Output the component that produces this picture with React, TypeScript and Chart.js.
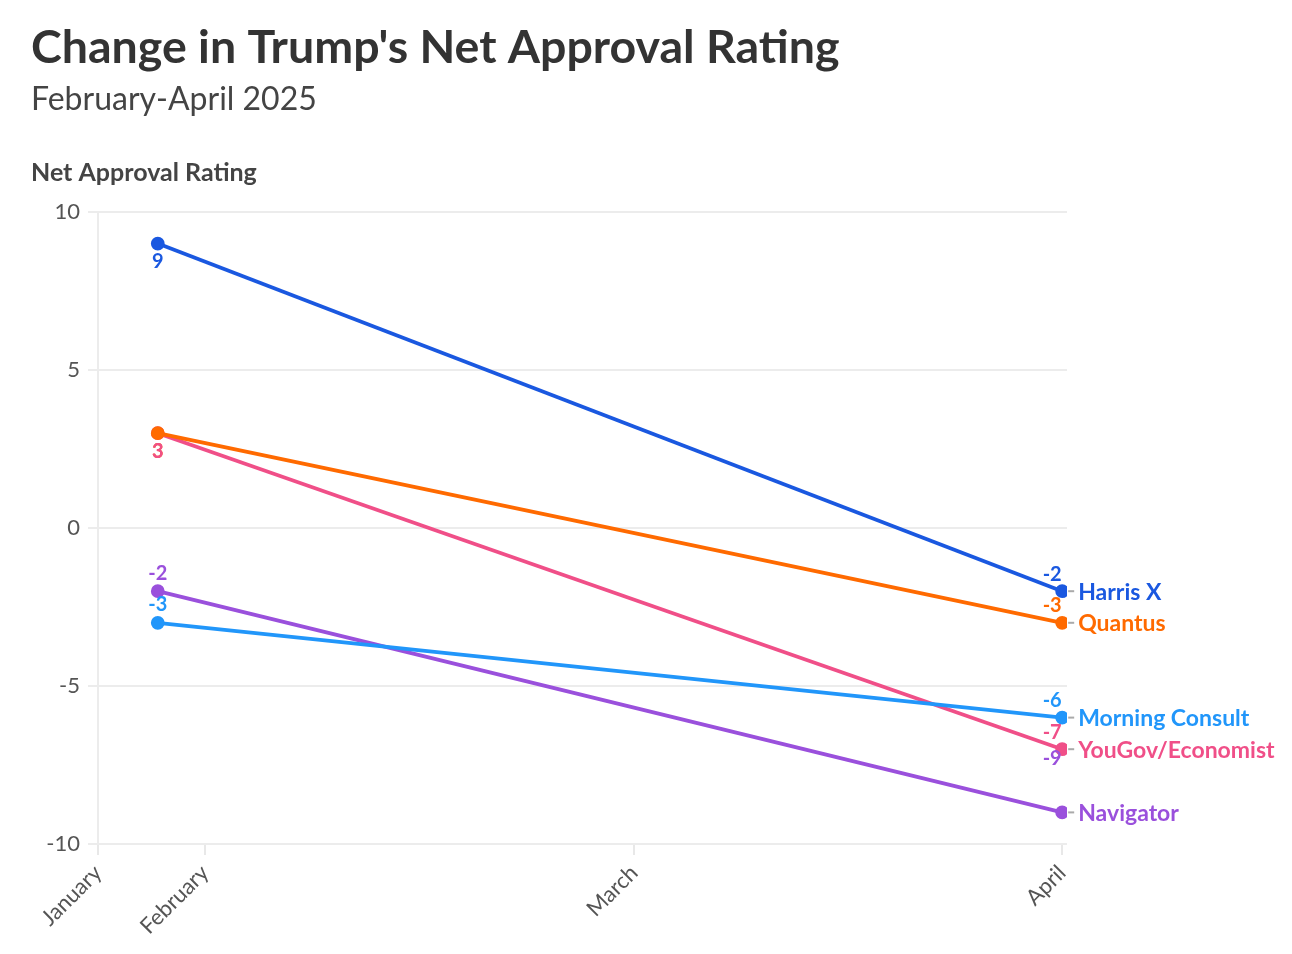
import React, { useEffect, useRef } from "react";
import { Chart, registerables } from "chart.js";

Chart.register(...registerables);

// ---- data ----
const seriesNames = ["Harris X", "Quantus", "Morning Consult", "YouGov/Economist", "Navigator"];
const febValues = [9, 3, -3, 3, -2];
const aprValues = [-2, -3, -6, -7, -9];
const pointX = [6.2, 100]; // positions on the month axis (Jan = 0, Apr = 100)
const monthTickValues = [0, 11.1, 55.6, 100];
const monthTickLabels = ["January", "February", "March", "April"];
const yTicks = [-10, -5, 0, 5, 10];

const TITLE = "Change in Trump's Net Approval Rating";
const SUBTITLE = "February-April 2025";
const AXIS_TITLE = "Net Approval Rating";

// ---- style ----
const colors = ["#1a58e0", "#ff6a00", "#2196fa", "#f04f88", "#9a50dc"];
// value-label offsets [dx, dy] per series, for first and last point
const labelOffsets: [number, number][][] = [
  [[0, 18], [-10, -17]],
  [[0, 18], [-10, -17]],
  [[0, -18], [-10, -17]],
  [[0, 18], [-10, -17]],
  [[0, -18], [-10, -54]],
];
const FONT = "Lato, 'Noto Sans', sans-serif";

const textPlugin = {
  id: "customText",
  afterDraw(chart: any) {
    const ctx = chart.ctx as CanvasRenderingContext2D;
    ctx.save();
    // titles
    ctx.textAlign = "left";
    ctx.textBaseline = "alphabetic";
    ctx.fillStyle = "#333333";
    ctx.font = `bold 46.5px ${FONT}`;
    ctx.fillText(TITLE, 31, 63);
    ctx.fillStyle = "#444444";
    ctx.font = `32px ${FONT}`;
    ctx.fillText(SUBTITLE, 31, 110);
    ctx.font = `bold 25px ${FONT}`;
    ctx.fillText(AXIS_TITLE, 31, 181);

    // value labels
    chart.data.datasets.forEach((ds: any, i: number) => {
      const meta = chart.getDatasetMeta(i);
      meta.data.forEach((pt: any, j: number) => {
        const [dx, dy] = labelOffsets[i][j];
        ctx.font = `bold 20px ${FONT}`;
        ctx.fillStyle = colors[i];
        ctx.textAlign = "center";
        ctx.textBaseline = "middle";
        ctx.fillText(String(ds.data[j].y), pt.x + dx, pt.y + dy);
      });
      // series name at end
      const last = meta.data[meta.data.length - 1];
      ctx.strokeStyle = "#aaaaaa";
      ctx.lineWidth = 2;
      ctx.beginPath();
      ctx.moveTo(last.x + 6, last.y);
      ctx.lineTo(last.x + 12, last.y);
      ctx.stroke();
      ctx.font = `bold 23px ${FONT}`;
      ctx.fillStyle = colors[i];
      ctx.textAlign = "left";
      ctx.textBaseline = "middle";
      ctx.fillText(seriesNames[i], last.x + 16, last.y + 1);
    });
    ctx.restore();
  },
};

export default function App() {
  const canvasRef = useRef<HTMLCanvasElement | null>(null);

  useEffect(() => {
    if (!canvasRef.current) return;
    const datasets = seriesNames.map((name, i) => ({
      label: name,
      data: [
        { x: pointX[0], y: febValues[i] },
        { x: pointX[1], y: aprValues[i] },
      ],
      borderColor: colors[i],
      backgroundColor: colors[i],
      borderWidth: 3.8,
      pointRadius: 5,
      pointHoverRadius: 5,
      tension: 0,
    }));
    const chart = new Chart(canvasRef.current, {
      type: "line",
      data: { datasets },
      options: {
        animation: false,
        responsive: false,
        devicePixelRatio: 1,
        layout: { padding: { top: 212, right: 225, left: 0, bottom: 0 } },
        plugins: {
          legend: { display: false },
          tooltip: { enabled: false },
          title: { display: false },
        },
        scales: {
          x: {
            type: "linear",
            min: 0,
            max: 100.5,
            afterFit: (s: any) => {
              s.height = 110;
            },
            afterBuildTicks: (s: any) => {
              s.ticks = monthTickValues.map((v) => ({ value: v }));
            },
            ticks: {
              autoSkip: false,
              minRotation: 45,
              maxRotation: 45,
              padding: 5,
              color: "#555555",
              font: { family: FONT, size: 22 },
              callback: (v: any) => {
                const k = monthTickValues.indexOf(Number(v));
                return k >= 0 ? monthTickLabels[k] : "";
              },
            },
            grid: {
              drawOnChartArea: false,
              drawTicks: true,
              tickLength: 11,
              color: "#e8e8e8",
              lineWidth: 2,
            },
            border: { display: false },
          },
          y: {
            type: "linear",
            min: -10,
            max: 10,
            afterFit: (s: any) => {
              s.width = 98;
            },
            afterBuildTicks: (s: any) => {
              s.ticks = yTicks.map((v) => ({ value: v }));
            },
            ticks: {
              padding: 8,
              color: "#555555",
              font: { family: FONT, size: 22 },
            },
            grid: {
              color: "#ececec",
              lineWidth: 2,
              tickLength: 10,
            },
            border: { display: true, color: "#ececec", width: 2 },
          },
        },
      },
      plugins: [textPlugin],
    });
    return () => chart.destroy();
  }, []);

  return (
    <div style={{ position: "absolute", left: 0, top: 0, width: 1292, height: 954, background: "#ffffff" }}>
      <canvas ref={canvasRef} width={1292} height={954} style={{ width: 1292, height: 954, display: "block" }} />
    </div>
  );
}
